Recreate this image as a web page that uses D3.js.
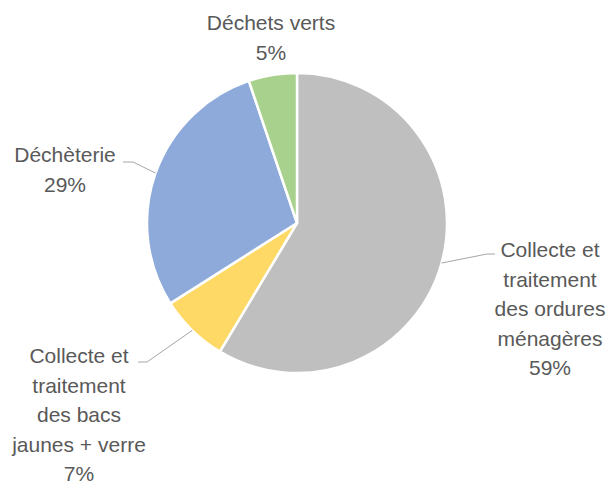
<!DOCTYPE html>
<html>
<head>
<meta charset="utf-8">
<script src="https://cdn.jsdelivr.net/npm/d3@7"></script>
<style>
  body { margin: 0; background: #fff; }
  text { font-family: "Liberation Sans", Arial, sans-serif; font-size: 21px; fill: #595959; }
</style>
</head>
<body>
<div id="chart"></div>
<script>
// données
const categories = [
  "Collecte et traitement des ordures ménagères",
  "Collecte et traitement des bacs jaunes + verre",
  "Déchèterie",
  "Déchets verts"
];
const values = [58.6, 7.4, 28.8, 5.2];
const labelLines = [
  ["Collecte et", "traitement", "des ordures", "ménagères"],
  ["Collecte et", "traitement", "des bacs", "jaunes + verre"],
  ["Déchèterie"],
  ["Déchets verts"]
];
const colors = ["#bfbfbf", "#ffd966", "#8eaadb", "#a9d18e"];

// mise en page des étiquettes (position du texte, coude de la ligne de rappel)
const labelLayout = [
  { x: 550, y: 257, elbow: [487, 254], end: [495, 254] },
  { x: 79, y: 363, elbow: [147, 362], end: [138, 362] },
  { x: 65, y: 162, elbow: [133, 162], end: [123, 162] },
  { x: 271, y: 30, elbow: null, end: null }
];

const width = 610, height = 485;
const cx = 297, cy = 223, radius = 150;
const lineH = 29.5;

const svg = d3.select("#chart")
  .append("svg")
  .attr("width", width)
  .attr("height", height);

const pie = d3.pie().sort(null).value(d => d);
const arcs = pie(values);
const arc = d3.arc().innerRadius(0).outerRadius(radius);

const g = svg.append("g").attr("transform", `translate(${cx},${cy})`);

g.selectAll("path")
  .data(arcs)
  .enter()
  .append("path")
  .attr("d", arc)
  .style("fill", (d, i) => colors[i])
  .style("stroke", "#fff")
  .style("stroke-width", 2.5)
  .style("stroke-linejoin", "round");

const total = d3.sum(values);

// lignes de rappel
arcs.forEach((d, i) => {
  const L = labelLayout[i];
  if (!L.elbow) return;
  const mid = (d.startAngle + d.endAngle) / 2;
  const p0 = [cx + radius * Math.sin(mid), cy - radius * Math.cos(mid)];
  svg.append("polyline")
    .attr("points", [p0, L.elbow, L.end].map(p => p.join(",")).join(" "))
    .style("fill", "none")
    .style("stroke", "#a6a6a6")
    .style("stroke-width", 1);
});

// étiquettes
arcs.forEach((d, i) => {
  const L = labelLayout[i];
  const lines = labelLines[i].concat([Math.round(values[i] / total * 100) + "%"]);
  const t = svg.append("text")
    .attr("text-anchor", "middle");
  lines.forEach((s, k) => {
    t.append("tspan")
      .attr("x", L.x)
      .attr("y", L.y + k * lineH)
      .text(s);
  });
});
</script>
</body>
</html>
